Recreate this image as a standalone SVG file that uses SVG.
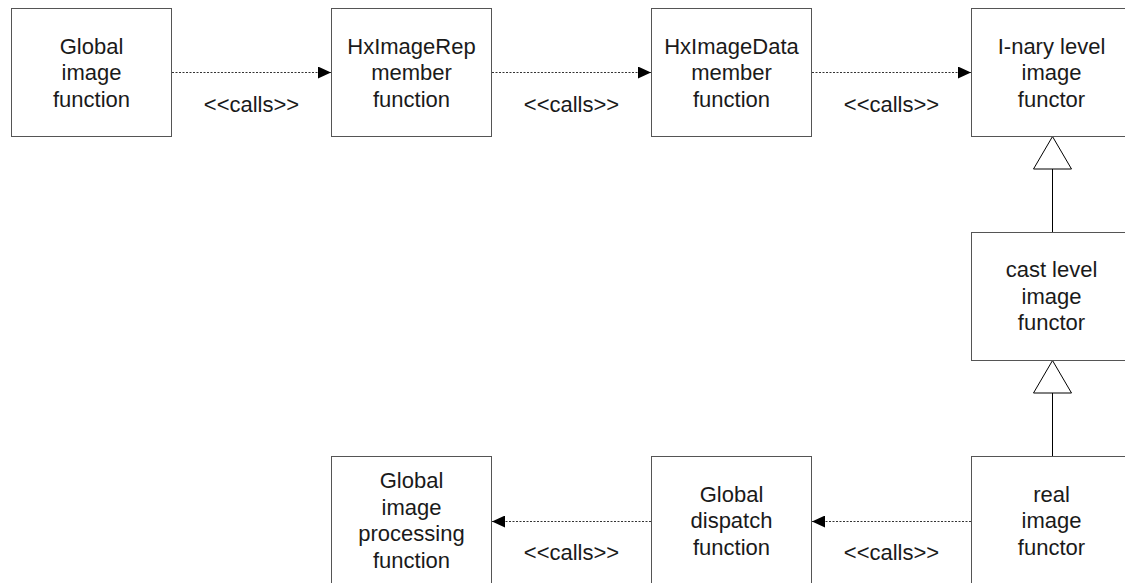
<svg xmlns="http://www.w3.org/2000/svg" width="1125" height="583" viewBox="0 0 1125 583">
  <style>
    .box { fill: #ffffff; stroke: #555555; stroke-width: 1; }
    .lbl { font-family: "Liberation Sans", Arial, sans-serif; font-size: 22px; fill: #1a1a1a; text-anchor: middle; }
    .call { fill: none; stroke: #333333; stroke-width: 1; stroke-dasharray: 2 1.5; }
    .gen { fill: none; stroke: #000000; stroke-width: 1; }
    .tri { fill: #ffffff; stroke: #000000; stroke-width: 1; }
  </style>
  <defs>
    <marker id="arrow" viewBox="0 0 13 12" refX="13" refY="6" markerWidth="13" markerHeight="12" markerUnits="userSpaceOnUse" orient="auto">
      <path d="M0,0 L13,6 L0,12 Z" fill="#000000"/>
    </marker>
  </defs>

  <rect width="1125" height="583" fill="#ffffff"/>

  <!-- connectors -->
  <g id="connectors">
    <line class="call" x1="172" y1="72.5" x2="331" y2="72.5" marker-end="url(#arrow)"/>
    <line class="call" x1="492" y1="72.5" x2="651" y2="72.5" marker-end="url(#arrow)"/>
    <line class="call" x1="812" y1="72.5" x2="971" y2="72.5" marker-end="url(#arrow)"/>
    <line class="call" x1="971" y1="521.5" x2="812" y2="521.5" marker-end="url(#arrow)"/>
    <line class="call" x1="651" y1="521.5" x2="492" y2="521.5" marker-end="url(#arrow)"/>

    <text class="lbl" x="251.5" y="111.5">&lt;&lt;calls&gt;&gt;</text>
    <text class="lbl" x="571.5" y="111.5">&lt;&lt;calls&gt;&gt;</text>
    <text class="lbl" x="891.5" y="111.5">&lt;&lt;calls&gt;&gt;</text>
    <text class="lbl" x="571.5" y="560">&lt;&lt;calls&gt;&gt;</text>
    <text class="lbl" x="891.5" y="560">&lt;&lt;calls&gt;&gt;</text>

    <!-- generalisation: cast level -> I-nary level -->
    <line class="gen" x1="1052.5" y1="169" x2="1052.5" y2="232.5"/>
    <polygon class="tri" points="1052.5,136.5 1071.5,169 1033.5,169"/>
    <!-- generalisation: real -> cast level -->
    <line class="gen" x1="1052.5" y1="393" x2="1052.5" y2="456.5"/>
    <polygon class="tri" points="1052.5,360.5 1071.5,393 1033.5,393"/>
  </g>

  <!-- nodes -->
  <g id="global-image-function">
    <rect class="box" x="11.5" y="8.5" width="160" height="128"/>
    <text class="lbl" x="91.5" y="53.5">Global</text>
    <text class="lbl" x="91.5" y="80">image</text>
    <text class="lbl" x="91.5" y="106.5">function</text>
  </g>

  <g id="hximagerep-member">
    <rect class="box" x="331.5" y="8.5" width="160" height="128"/>
    <text class="lbl" x="411.5" y="53.5">HxImageRep</text>
    <text class="lbl" x="411.5" y="80">member</text>
    <text class="lbl" x="411.5" y="106.5">function</text>
  </g>

  <g id="hximagedata-member">
    <rect class="box" x="651.5" y="8.5" width="160" height="128"/>
    <text class="lbl" x="731.5" y="53.5">HxImageData</text>
    <text class="lbl" x="731.5" y="80">member</text>
    <text class="lbl" x="731.5" y="106.5">function</text>
  </g>

  <g id="inary-functor">
    <rect class="box" x="971.5" y="8.5" width="160" height="128"/>
    <text class="lbl" x="1051.5" y="53.5">I-nary level</text>
    <text class="lbl" x="1051.5" y="80">image</text>
    <text class="lbl" x="1051.5" y="106.5">functor</text>
  </g>

  <g id="cast-functor">
    <rect class="box" x="971.5" y="232.5" width="160" height="128"/>
    <text class="lbl" x="1051.5" y="277">cast level</text>
    <text class="lbl" x="1051.5" y="303.5">image</text>
    <text class="lbl" x="1051.5" y="330">functor</text>
  </g>

  <g id="real-functor">
    <rect class="box" x="971.5" y="456.5" width="160" height="128"/>
    <text class="lbl" x="1051.5" y="501.5">real</text>
    <text class="lbl" x="1051.5" y="528">image</text>
    <text class="lbl" x="1051.5" y="554.5">functor</text>
  </g>

  <g id="global-dispatch">
    <rect class="box" x="651.5" y="456.5" width="160" height="128"/>
    <text class="lbl" x="731.5" y="501.5">Global</text>
    <text class="lbl" x="731.5" y="528">dispatch</text>
    <text class="lbl" x="731.5" y="554.5">function</text>
  </g>

  <g id="global-processing">
    <rect class="box" x="331.5" y="456.5" width="160" height="128"/>
    <text class="lbl" x="411.5" y="488">Global</text>
    <text class="lbl" x="411.5" y="514.5">image</text>
    <text class="lbl" x="411.5" y="541">processing</text>
    <text class="lbl" x="411.5" y="567.5">function</text>
  </g>
</svg>
